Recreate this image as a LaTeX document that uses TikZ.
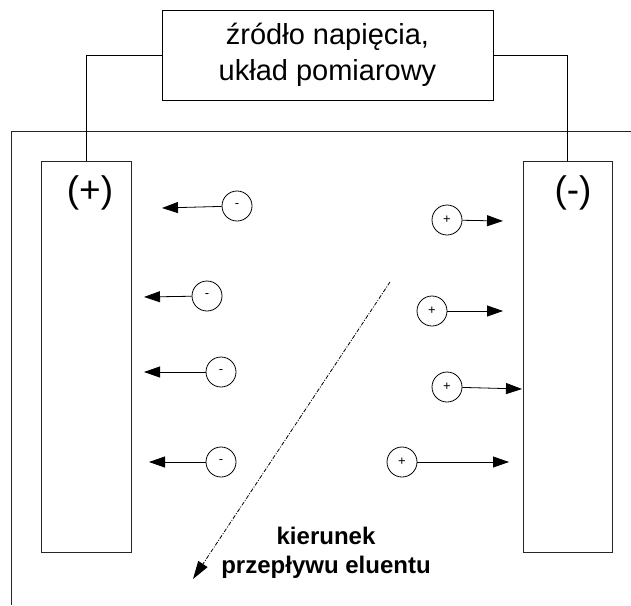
\documentclass[tikz,border=0pt]{standalone}
\usepackage{fontspec}
\setmainfont{Liberation Sans}
\usetikzlibrary{arrows.meta}
\tikzset{
  wire/.style={line width=0.8pt, draw=black},
  electrode/.style={draw=black!85, line width=0.9pt, minimum height=391pt, inner sep=0pt},
  ion/.style={circle, draw=black, line width=0.8pt, minimum size=30pt, inner sep=0pt, font=\fontsize{13}{15}\selectfont},
  move/.style={line width=0.8pt, -{Triangle[length=16pt,width=11pt]}},
  flow/.style={line width=0.8pt, dash pattern=on 4pt off 1.5pt on 1pt off 1.5pt, -{Triangle[length=18pt,width=11pt]}},
  pole/.style={font=\fontsize{37}{40}\selectfont, inner sep=0pt}
}
\begin{document}
\begin{tikzpicture}[x=1pt,y=-1pt]
\useasboundingbox (0,0) rectangle (631,605);
% source box
\node[draw=black, line width=0.8pt, minimum width=331pt, minimum height=90pt, inner sep=0pt,
      align=center, font=\fontsize{29}{36}\selectfont] (src) at (327.5,55)
  {źródło napięcia,\\układ pomiarowy};
% container
\coordinate (c1) at (631,131);
\coordinate (c2) at (11,131);
\coordinate (c3) at (11,605);
\draw[wire, draw=black!85] (c1) -- (c2) -- (c3);
% electrodes
\node[electrode, minimum width=90pt] (elL) at (86,356.5) {};
\node[electrode, minimum width=89pt] (elR) at (567.5,356.5) {};
\node[pole] (pL) at (90,193) {(+)};
\node[pole] (pR) at (573,193) {(-)};
% wires
\draw[wire] (elL.north) |- (src.west);
\draw[wire] (src.east) -| (elR.north);
% anions
\node[ion] (a1) at (237,206) {-};
\node[ion] (a2) at (207,296) {-};
\node[ion] (a3) at (221,372) {-};
\node[ion] (a4) at (221,462) {-};
\coordinate (ta1) at (162,208);
\coordinate (ta2) at (144,297);
\coordinate (ta3) at (144,372);
\coordinate (ta4) at (149,462);
\draw[move] (a1) -- (ta1);
\draw[move] (a2) -- (ta2);
\draw[move] (a3) -- (ta3);
\draw[move] (a4) -- (ta4);
% cations
\node[ion] (k1) at (447,220) {+};
\node[ion] (k2) at (432,311) {+};
\node[ion] (k3) at (447,387) {+};
\node[ion] (k4) at (402,462) {+};
\coordinate (tk1) at (503,221);
\coordinate (tk2) at (503,311);
\coordinate (tk3) at (522,389);
\coordinate (tk4) at (509,462);
\draw[move] (k1) -- (tk1);
\draw[move] (k2) -- (tk2);
\draw[move] (k3) -- (tk3);
\draw[move] (k4) -- (tk4);
% eluent flow
\coordinate (f1) at (390,282);
\coordinate (f2) at (193,579);
\draw[flow] (f1) -- (f2);
\node[align=center, font=\bfseries\fontsize{24}{29}\selectfont, inner sep=0pt] (lab) at (326,553)
  {kierunek\\przepływu eluentu};
\end{tikzpicture}
\end{document}
